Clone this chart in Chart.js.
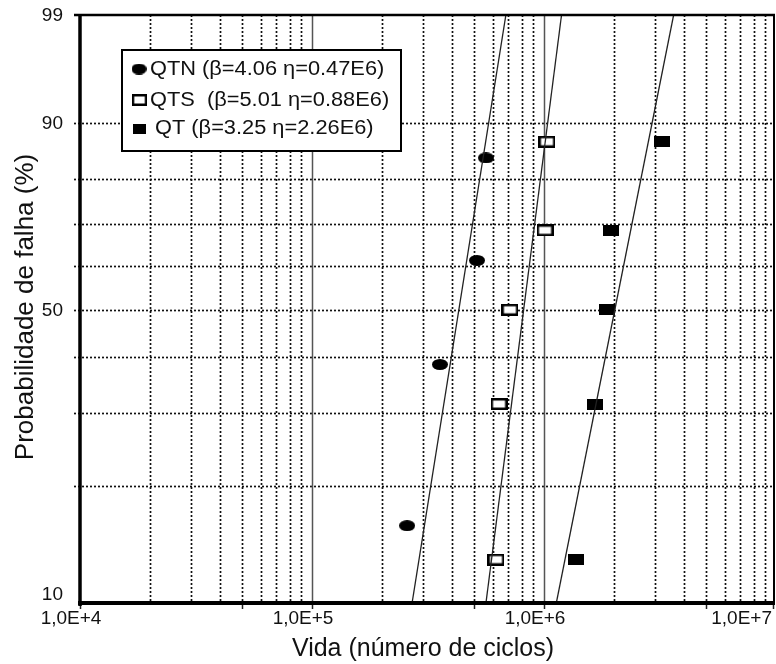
<!DOCTYPE html>
<html>
<head>
<meta charset="utf-8">
<script src="https://cdn.jsdelivr.net/npm/chart.js@4.4.0/dist/chart.umd.min.js"></script>
<style>
  html, body { margin: 0; padding: 0; background: #fff; }
  #wrap { width: 776px; height: 664px; position: relative; }
</style>
</head>
<body>
<div id="wrap"><canvas id="weibull"></canvas></div>
<script>
// vida (ciclos) e probabilidade de falha (%) de cada ensaio
const qtnVida = [2.57e5, 3.56e5, 5.14e5, 5.62e5];
const qtnProb = [15.9, 38.6, 61.4, 84.1];
const qtsVida = [6.21e5, 6.40e5, 7.13e5, 1.01e6, 1.03e6];
const qtsProb = [13.0, 31.5, 50.0, 68.5, 87.0];
const qtVida = [1.37e6, 1.66e6, 1.87e6, 1.94e6, 3.23e6];
const qtProb = [13.0, 31.5, 50.0, 68.5, 87.0];

// retas de ajuste: vida nos extremos 10% e 99%
const retaProb = [10, 99];
const qtnReta = [2.70e5, 6.85e5];
const qtsReta = [5.62e5, 1.19e6];
const qtReta = [1.13e6, 3.62e6];

const legendas = ["QTN (β=4.06 η=0.47E6)", "QTS  (β=5.01 η=0.88E6)", "QT (β=3.25 η=2.26E6)"];
const probGrade = [20, 30, 40, 50, 60, 70, 80, 90];
const probRotulos = [10, 50, 90, 99];
const vidaRotulos = ["1,0E+4", "1,0E+5", "1,0E+6", "1,0E+7"];
const vidaDecadas = [1e4, 1e5, 1e6, 1e7];

// papel de Weibull: y = ln(-ln(1-F))
const wb = p => Math.log(-Math.log(1 - p / 100));
const pontos = (vs, ps) => vs.map((v, i) => ({ x: v, y: wb(ps[i]) }));

function marcador(w, h, tipo, borda) {
  const c = document.createElement("canvas");
  c.width = w; c.height = h;
  const g = c.getContext("2d");
  g.fillStyle = "#000";
  if (tipo === "elipse") {
    g.beginPath(); g.ellipse(w / 2, h / 2, w / 2, h / 2, 0, 0, 2 * Math.PI); g.fill();
  } else if (tipo === "cheio") {
    g.fillRect(0, 0, w, h);
  } else {
    g.fillRect(0, 0, w, h);
    g.fillStyle = "#fff";
    g.fillRect(borda, borda, w - 2 * borda, h - 2 * borda);
  }
  return c;
}

const mElipse = marcador(16, 11, "elipse");
const mAberto = marcador(17, 12, "aberto", 2.5);
const mCheio = marcador(16, 11, "cheio");

const fonte = '"Liberation Sans", Arial, sans-serif';
const bordaDir = 775;

const grade = {
  id: "grade",
  beforeDatasetsDraw(chart) {
    const { ctx, chartArea: a, scales: { x, y } } = chart;
    ctx.save();
    // linhas pontilhadas
    ctx.strokeStyle = "#111";
    ctx.lineWidth = 1.7;
    ctx.setLineDash([2, 2]);
    probGrade.forEach(p => {
      const py = Math.round(y.getPixelForValue(wb(p))) + 0.5;
      ctx.beginPath(); ctx.moveTo(a.left - 6, py); ctx.lineTo(bordaDir, py); ctx.stroke();
    });
    for (let d = 1e4; d < 1e7; d *= 10) {
      for (let k = 2; k <= 9; k++) {
        const px = Math.round(x.getPixelForValue(k * d)) + 0.5;
        if (px > bordaDir - 2) continue;
        ctx.beginPath(); ctx.moveTo(px, a.top); ctx.lineTo(px, a.bottom); ctx.stroke();
      }
    }
    // decadas em linha cheia
    ctx.setLineDash([]);
    ctx.strokeStyle = "#555";
    ctx.lineWidth = 1.5;
    [1e5, 1e6].forEach(v => {
      const px = Math.round(x.getPixelForValue(v)) + 0.5;
      ctx.beginPath(); ctx.moveTo(px, a.top); ctx.lineTo(px, a.bottom); ctx.stroke();
    });
    ctx.restore();
  },
  afterDatasetsDraw(chart) {
    const { ctx, chartArea: a, scales: { x, y } } = chart;
    ctx.save();
    // limpa o que passou da borda direita
    ctx.fillStyle = "#fff";
    ctx.fillRect(bordaDir, 0, chart.width - bordaDir, a.bottom);
    ctx.strokeStyle = "#000";
    // bordas superior e direita
    ctx.lineWidth = 2.5;
    ctx.beginPath(); ctx.moveTo(a.left - 6, a.top); ctx.lineTo(bordaDir, a.top); ctx.stroke();
    ctx.lineWidth = 2;
    ctx.beginPath(); ctx.moveTo(bordaDir - 1, a.top); ctx.lineTo(bordaDir - 1, a.bottom); ctx.stroke();
    // tracos do eixo x
    ctx.lineWidth = 1.5;
    ctx.strokeStyle = "#222";
    for (let d = 1e4; d <= 1e7; d *= 10) {
      [d, 5 * d].forEach(v => {
        if (v > 1e7) return;
        let px = Math.round(x.getPixelForValue(v)) + 0.5;
        if (px > bordaDir) px = bordaDir - 1.5;
        ctx.beginPath(); ctx.moveTo(px, a.bottom); ctx.lineTo(px, a.bottom + 6); ctx.stroke();
      });
    }
    // eixos grossos
    ctx.strokeStyle = "#000";
    ctx.lineWidth = 3.5;
    ctx.beginPath(); ctx.moveTo(a.left, a.top - 1); ctx.lineTo(a.left, a.bottom + 3); ctx.stroke();
    ctx.lineWidth = 4;
    ctx.beginPath(); ctx.moveTo(a.left - 2, a.bottom); ctx.lineTo(bordaDir, a.bottom); ctx.stroke();

    // rotulos
    ctx.fillStyle = "#111";
    ctx.font = "19px " + fonte;
    ctx.textAlign = "right";
    ctx.textBaseline = "middle";
    probRotulos.forEach(p => {
      let py = y.getPixelForValue(wb(p));
      if (p === 10) py -= 8;
      else py += 1;
      ctx.fillText(String(p), 63, py);
    });
    ctx.textAlign = "center";
    vidaDecadas.forEach((v, i) => {
      const w = ctx.measureText(vidaRotulos[i]).width;
      let cx = x.getPixelForValue(v) - 9;
      if (cx + w / 2 > bordaDir - 3) cx = bordaDir - 3 - w / 2;
      ctx.fillText(vidaRotulos[i], cx, a.bottom + 16);
    });

    // titulos dos eixos
    ctx.font = "25px " + fonte;
    ctx.textBaseline = "alphabetic";
    ctx.fillText("Vida (número de ciclos)", 423, 656);
    ctx.save();
    ctx.font = "26px " + fonte;
    ctx.translate(33, 307);
    ctx.rotate(-Math.PI / 2);
    ctx.fillText("Probabilidade de falha (%)", 0, 0);
    ctx.restore();

    // legenda
    ctx.fillStyle = "#fff";
    ctx.fillRect(122, 50, 279, 101);
    ctx.strokeStyle = "#000";
    ctx.lineWidth = 2;
    ctx.strokeRect(122, 50, 279, 101);
    const mks = [[mElipse, 139, 69, 15, 11], [mAberto, 139.5, 100, 15, 12], [mCheio, 139.5, 128.5, 13, 10]];
    const tx = [150, 150, 155];
    const ty = [69.5, 100, 128.5];
    mks.forEach(([m, cx, cy, w, h]) => ctx.drawImage(m, cx - w / 2, cy - h / 2, w, h));
    ctx.fillStyle = "#111";
    ctx.font = "20px " + fonte;
    ctx.textAlign = "left";
    ctx.textBaseline = "middle";
    legendas.forEach((t, i) => {
      ctx.save();
      ctx.translate(tx[i], ty[i]);
      ctx.scale(1.09, 1);
      ctx.fillText(t, 0, 0);
      ctx.restore();
    });
    ctx.restore();
  }
};

const reta = (vs, cor) => ({
  data: vs.map((v, i) => ({ x: v, y: wb(retaProb[i]) })),
  showLine: true,
  borderColor: cor,
  borderWidth: 1.3,
  pointRadius: 0
});

new Chart(document.getElementById("weibull"), {
  type: "scatter",
  data: {
    datasets: [
      reta(qtnReta, "#222"),
      reta(qtsReta, "#222"),
      reta(qtReta, "#222"),
      { label: "QTN", data: pontos(qtnVida, qtnProb), pointStyle: mElipse },
      { label: "QTS", data: pontos(qtsVida, qtsProb), pointStyle: mAberto },
      { label: "QT", data: pontos(qtVida, qtProb), pointStyle: mCheio }
    ]
  },
  options: {
    responsive: true,
    maintainAspectRatio: false,
    animation: false,
    // o eixo vai ate 1e7 um pouco alem da borda desenhada
    layout: { autoPadding: false, padding: { left: 80, top: 15, right: -2, bottom: 61 } },
    scales: {
      x: { type: "logarithmic", min: 1e4, max: 1e7, display: false },
      y: { type: "linear", min: wb(10), max: wb(99), display: false }
    },
    plugins: {
      legend: { display: false },
      tooltip: { enabled: false }
    }
  },
  plugins: [grade]
});
</script>
</body>
</html>
